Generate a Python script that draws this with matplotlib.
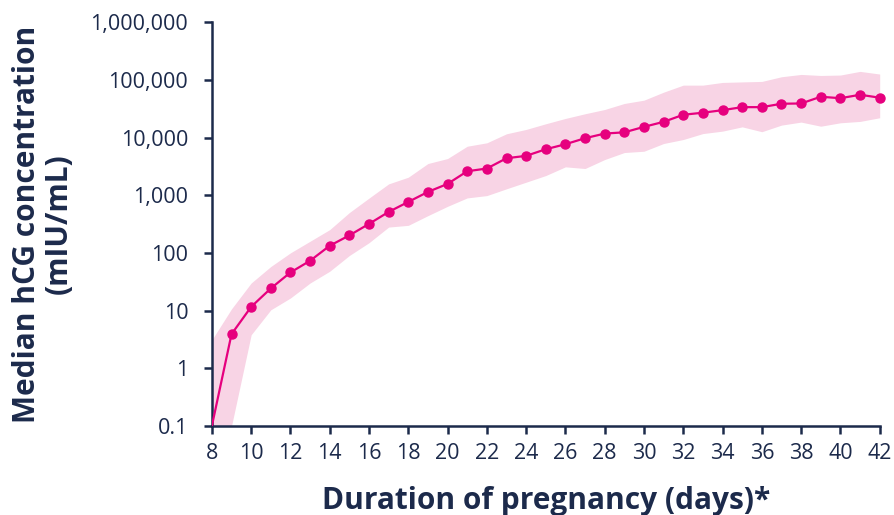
import matplotlib
matplotlib.use("Agg")
import matplotlib.pyplot as plt
import numpy as np
from matplotlib.ticker import FixedLocator, FixedFormatter

plt.rcParams['font.family'] = ['Open Sans', 'DejaVu Sans']

navy = '#1c2a4b'
pink = '#e6007e'
band = '#f8d4e5'

days = list(range(8, 43))
median = [0.1, 3.9, 11.6, 24.2, 45.8, 73, 133, 201, 318, 513, 765, 1140, 1570,
          2600, 2900, 4370, 4810, 6260, 7650, 9730, 11700, 12300, 15300, 18700,
          24800, 26900, 29800, 33600, 33600, 38500, 38900, 50900, 48000, 55100, 49000]
lower = [0.1, 0.1, 3.8, 10.3, 16.5, 30, 48, 90, 150, 280, 300, 442, 641, 897,
         984, 1290, 1680, 2190, 3100, 2900, 4150, 5490, 5780, 7870, 9230, 11700,
         12900, 15300, 12600, 16400, 18500, 15700, 18000, 19000, 22000]
upper = [3.1, 10.7, 30, 58, 100, 159, 253, 500, 890, 1570, 2050, 3540, 4320,
         7060, 8090, 11600, 13800, 17300, 21400, 25800, 30600, 38900, 44400,
         61100, 80900, 80900, 90100, 92000, 93800, 113000, 124000, 119000,
         121000, 140000, 126000]

ytick_vals = [0.1, 1, 10, 100, 1000, 10000, 100000, 1000000]
ytick_labels = ['0.1', '1', '10', '100', '1,000', '10,000', '100,000', '1,000,000']
xtick_vals = list(range(8, 43, 2))

fig = plt.figure(figsize=(8.94, 5.15), dpi=100)
ax = fig.add_axes([0.237, 0.173, 0.747, 0.784])

ax.fill_between(days, lower, upper, color=band, linewidth=0, zorder=1)
# line starts at the axis floor, first point has no marker
ax.plot(days, median, color=pink, linewidth=1.6, zorder=3)
ax.plot(days[1:], median[1:], color=pink, linestyle='none', marker='o',
        markersize=6.5, zorder=4, clip_on=False)

ax.set_yscale('log')
ax.set_ylim(0.1, 1000000)
ax.set_xlim(8, 42)
ax.yaxis.set_major_locator(FixedLocator(ytick_vals))
ax.yaxis.set_major_formatter(FixedFormatter(ytick_labels))
ax.yaxis.set_minor_locator(FixedLocator([]))
ax.set_xticks(xtick_vals)

for s in ['top', 'right']:
    ax.spines[s].set_visible(False)
for s in ['left', 'bottom']:
    ax.spines[s].set_color(navy)
    ax.spines[s].set_linewidth(1.8)

ax.tick_params(axis='both', colors=navy, labelsize=15.5, length=6, width=1.8,
               direction='out')
ax.tick_params(axis='y', pad=11)
ax.tick_params(axis='x', pad=6)

ax.set_ylabel('Median hCG concentration\n(mIU/mL)', fontsize=21.5,
              fontweight='bold', color=navy, linespacing=1.05, va='center')
ax.yaxis.set_label_coords(-0.253, 0.5)
ax.set_xlabel('Duration of pregnancy (days)*', fontsize=21.5, fontweight='bold',
              color=navy, va='center')
ax.xaxis.set_label_coords(0.5, -0.185)

plt.savefig('out.png', dpi=100)
